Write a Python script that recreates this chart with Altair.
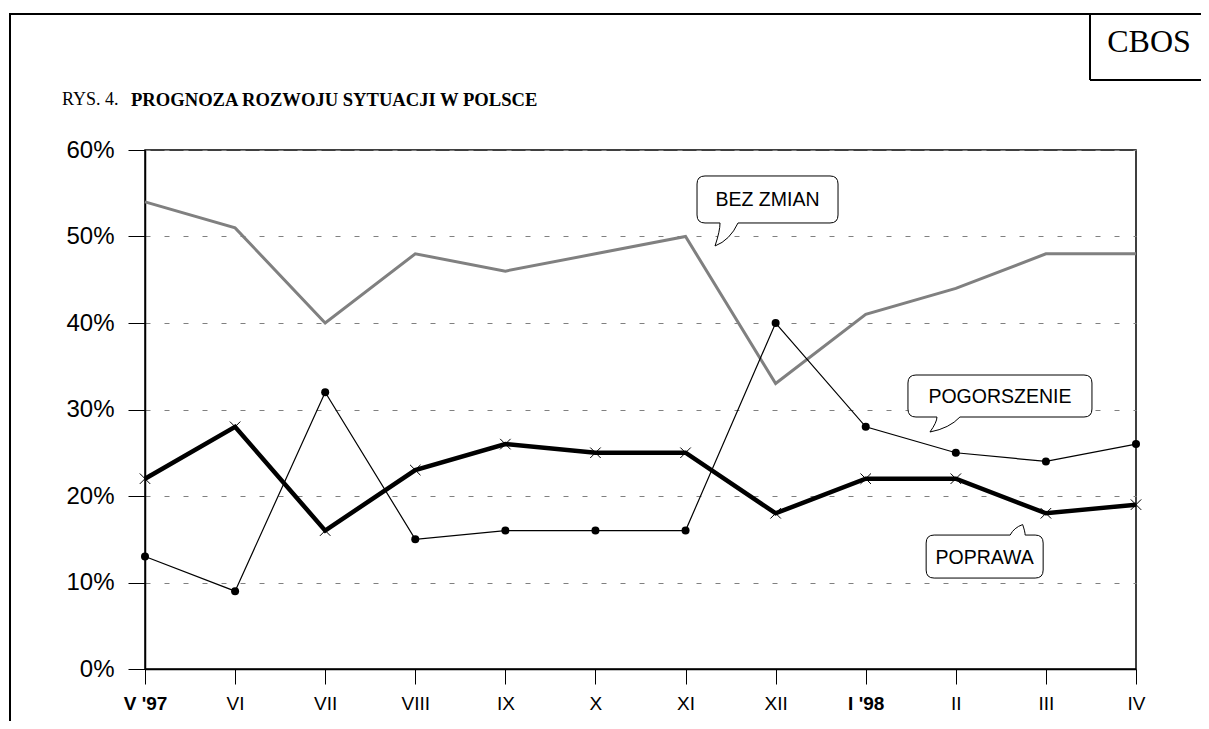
import json
import altair as alt
import pandas as pd

# ---------------- data ----------------
months = ["V '97", "VI", "VII", "VIII", "IX", "X", "XI", "XII", "I '98", "II", "III", "IV"]
bez_zmian = [54, 51, 40, 48, 46, 48, 50, 33, 41, 44, 48, 48]
pogorszenie = [13, 9, 32, 15, 16, 16, 16, 40, 28, 25, 24, 26]
poprawa = [22, 28, 16, 23, 26, 25, 25, 18, 22, 22, 18, 19]
y_ticks = [0, 10, 20, 30, 40, 50, 60]

title_prefix = "RYS. 4."
title_main = "PROGNOZA ROZWOJU SYTUACJI W POLSCE"
source_label = "CBOS"
callout_labels = ["BEZ ZMIAN", "POGORSZENIE", "POPRAWA"]

# ---------------- layout ----------------
W, H = 991, 519
PAD = {"left": 137, "top": 142, "right": 65, "bottom": 52}
SANS = "Liberation Sans"
SERIF = "Liberation Serif"

# callout placement (data coords of box centre) and bubble geometry (px)
callout_pos = [(6.91, 54.28), (9.49, 31.56), (9.32, 13.0)]
callout_box = [(141, 47), (184, 42), (117, 43)]
callout_tail = [("bottom", -47.5, -29.5, -52.5, 46.5),
                ("bottom", -63, -40, -70, 36),
                ("top", 25.5, 40.5, 38, -32)]

df = pd.DataFrame({
    "i": list(range(len(months))),
    "bez": bez_zmian,
    "pog": pogorszenie,
    "pop": poprawa,
})

bold_idx = [i for i, m in enumerate(months) if "'" in m]
bold_test = " || ".join(f"datum.value == {i}" for i in bold_idx)

x_axis = alt.Axis(
    values=list(range(len(months))),
    labelExpr=json.dumps(months) + "[datum.value]",
    title=None, grid=False,
    domainColor="black", domainWidth=1.5,
    tickColor="black", tickSize=15, tickWidth=1,
    labelFont=SANS, labelFontSize=19, labelColor="black",
    labelPadding=10, labelAngle=0, labelOverlap=False, labelFlush=False,
    labelFontWeight={"condition": {"test": bold_test, "value": "bold"}, "value": "normal"},
)
y_axis = alt.Axis(
    values=y_ticks, labelExpr="datum.value + '%'", title=None,
    grid=True, gridColor="#808080", gridDash=[5, 14], gridWidth=1,
    domainColor="black", domainWidth=1.5,
    tickColor="black", tickSize=17, tickWidth=1,
    labelFont=SANS, labelFontSize=24, labelColor="black", labelPadding=14,
)


def X(field):
    return alt.X(field, type="quantitative",
                 scale=alt.Scale(domain=[0, len(months) - 1], nice=False, zero=False),
                 axis=x_axis)


def Y(field):
    return alt.Y(field, type="quantitative",
                 scale=alt.Scale(domain=[0, 60], nice=False), axis=y_axis)


base = alt.Chart(df)

gray_line = base.mark_line(color="#808080", strokeWidth=3).encode(x=X("i"), y=Y("bez"))
pog_line = base.mark_line(color="black", strokeWidth=1.2).encode(x=X("i"), y=Y("pog"))
pog_pts = base.mark_point(shape="circle", filled=True, color="black", size=64,
                          opacity=1).encode(x=X("i"), y=Y("pog"))
pop_line = base.mark_line(color="black", strokeWidth=4.5).encode(x=X("i"), y=Y("pop"))
pop_pts = base.mark_point(shape="M-1,-1L1,1M-1,1L1,-1", size=110, filled=False,
                          color="black", strokeWidth=1, opacity=1).encode(x=X("i"), y=Y("pop"))


def bubble_path(w, h, tail, r=8):
    side, a, b, tx, ty = tail
    hw, hh = w / 2, h / 2
    p = [f"M{-hw + r},{-hh}"]
    if side == "top":
        p.append(f"L{a},{-hh}")
        p.append(f"Q{a + (tx - a) * 0.3},{-hh + (ty + hh) * 0.7} {tx},{ty}")
        p.append(f"Q{b},{-hh + (ty + hh) * 0.3} {b},{-hh}")
    p.append(f"L{hw - r},{-hh}")
    p.append(f"Q{hw},{-hh} {hw},{-hh + r}")
    p.append(f"L{hw},{hh - r}")
    p.append(f"Q{hw},{hh} {hw - r},{hh}")
    if side == "bottom":
        p.append(f"L{b},{hh}")
        p.append(f"Q{b - (b - tx) * 0.35},{hh + (ty - hh) * 0.75} {tx},{ty}")
        p.append(f"Q{a},{hh + (ty - hh) * 0.35} {a},{hh}")
    p.append(f"L{-hw + r},{hh}")
    p.append(f"Q{-hw},{hh} {-hw},{hh - r}")
    p.append(f"L{-hw},{-hh + r}")
    p.append(f"Q{-hw},{-hh} {-hw + r},{-hh}")
    p.append("Z")
    return "".join(p)


callout_layers = []
for lab, (cx, cy), (bw, bh), tail in zip(callout_labels, callout_pos, callout_box, callout_tail):
    cdf = pd.DataFrame({"cx": [cx], "cy": [cy], "label": [lab]})
    cb = alt.Chart(cdf)
    callout_layers.append(
        cb.mark_point(shape=bubble_path(bw, bh, tail), size=4, filled=True, fill="white",
                      stroke="black", strokeWidth=1, opacity=1, fillOpacity=1)
        .encode(x=X("cx"), y=Y("cy"))
    )
    callout_layers.append(
        cb.mark_text(font=SANS, fontSize=19.5, color="black", align="center", baseline="middle", dy=1)
        .encode(x=X("cx"), y=Y("cy"), text="label:N")
    )

one = alt.Chart(pd.DataFrame({"k": [0]}))


def rule(**kw):
    enc = {k: alt.value(v) for k, v in kw.items()}
    return one.mark_rule(color="black", strokeWidth=2).encode(**enc)


frame = [
    rule(x=-135, x2=1060, y=-136),
    rule(x=-135, y=-137, y2=575),
    rule(x=945, y=-136, y2=-70),
    rule(x=945, x2=1060, y=-70),
]

texts = [
    one.mark_text(font=SERIF, fontSize=18, align="left", baseline="middle", color="black")
    .encode(x=alt.value(-83), y=alt.value(-50), text=alt.value(title_prefix)),
    one.mark_text(font=SERIF, fontSize=18.6, fontWeight="bold", align="left", baseline="middle",
                  color="black")
    .encode(x=alt.value(-14), y=alt.value(-50), text=alt.value(title_main)),
    one.mark_text(font=SERIF, fontSize=32, align="center", baseline="middle", color="black")
    .encode(x=alt.value(1004), y=alt.value(-108), text=alt.value(source_label)),
]

chart = alt.layer(
    gray_line, pog_line, pog_pts, pop_line, pop_pts, *callout_layers, *frame, *texts
).properties(
    width=W, height=H,
    autosize=alt.AutoSizeParams(type="none"),
    padding=PAD,
    background="white",
).configure_view(stroke="black", strokeWidth=1.5)

chart.save("out.html", embed_options={"renderer": "svg", "actions": False})
